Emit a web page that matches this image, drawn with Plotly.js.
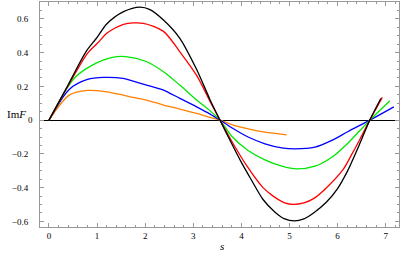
<!DOCTYPE html>
<html><head><meta charset="utf-8">
<script src="https://cdn.plot.ly/plotly-3.0.1.min.js"></script>
<style>html,body{margin:0;padding:0;background:#fff}</style>
</head><body><div id="chart" style="width:407px;height:260px"></div>
<script>
// Black series
const sBlack  = [0, 0.4, 0.78, 1.0, 1.2, 1.55, 1.89, 2.1, 2.38, 2.72, 3.07, 3.35, 3.555, 3.8, 4.0, 4.2, 4.45, 4.7, 4.9, 5.1, 5.3, 5.5, 5.77, 6.0, 6.2, 6.4, 6.67, 6.9];
const imBlack = [0, 0.21, 0.41, 0.49, 0.57, 0.643, 0.67, 0.655, 0.593, 0.485, 0.30, 0.12, 0, -0.14, -0.25, -0.35, -0.47, -0.545, -0.585, -0.597, -0.585, -0.55, -0.485, -0.405, -0.305, -0.18, 0, 0.128];
// Red series
const sRed  = [0, 0.4, 0.8, 1.04, 1.2, 1.55, 1.96, 2.38, 2.72, 3.07, 3.35, 3.555, 3.8, 4.11, 4.45, 4.66, 4.9, 5.08, 5.3, 5.5, 5.77, 6.12, 6.3, 6.47, 6.67, 6.93];
const imRed = [0, 0.205, 0.396, 0.465, 0.515, 0.568, 0.574, 0.526, 0.405, 0.265, 0.11, 0, -0.125, -0.27, -0.4, -0.45, -0.49, -0.499, -0.49, -0.465, -0.40, -0.29, -0.2, -0.11, 0, 0.135];
// Green series
const sGreen  = [0, 0.52, 0.9, 1.32, 1.6, 2.03, 2.38, 2.72, 3.07, 3.35, 3.555, 3.8, 4.14, 4.49, 4.84, 5.15, 5.53, 5.88, 6.22, 6.47, 6.67, 7.09];
const imGreen = [0, 0.247, 0.326, 0.372, 0.376, 0.346, 0.287, 0.208, 0.119, 0.055, 0, -0.095, -0.18, -0.235, -0.273, -0.289, -0.273, -0.22, -0.135, -0.06, 0, 0.115];
// Blue series
const sBlue  = [0, 0.42, 0.8, 1.14, 1.545, 1.68, 2.03, 2.38, 2.72, 3.07, 3.35, 3.555, 3.8, 4.14, 4.49, 4.84, 5.11, 5.53, 5.88, 6.22, 6.67, 7.17];
const imBlue = [0, 0.182, 0.241, 0.253, 0.247, 0.237, 0.208, 0.178, 0.129, 0.079, 0.036, 0, -0.045, -0.10, -0.14, -0.164, -0.17, -0.16, -0.12, -0.067, 0, 0.079];
// Orange series
const sOrange  = [0, 0.42, 0.8, 1.2, 1.545, 1.75, 2.03, 2.38, 2.72, 3.07, 3.35, 3.555, 3.8, 4.14, 4.49, 4.94];
const imOrange = [0, 0.148, 0.176, 0.168, 0.148, 0.135, 0.119, 0.089, 0.066, 0.04, 0.016, 0, -0.026, -0.051, -0.071, -0.087];

const yTickVals = [-0.6, -0.4, -0.2, 0, 0.2, 0.4, 0.6];
const yTickText = ['\u22120.6', '\u22120.4', '\u22120.2', '', '0.2', '0.4', '0.6'];
const xTickVals = [0, 1, 2, 3, 4, 5, 6, 7];
const xTickText = ['0', '1', '2', '3', '4', '5', '6', '7'];

const FONT = '"Liberation Serif", "Times New Roman", "DejaVu Serif", serif';

const series = [
  {x: sOrange, y: imOrange, c: 'rgb(255,128,0)'},
  {x: sBlue, y: imBlue, c: 'rgb(0,0,255)'},
  {x: sGreen, y: imGreen, c: 'rgb(0,230,0)'},
  {x: sRed, y: imRed, c: 'rgb(255,0,0)'},
  {x: sBlack, y: imBlack, c: 'rgb(0,0,0)'}
];
const traces = series.map(s => ({x: s.x, y: s.y, type: 'scatter', mode: 'lines',
  line: {color: s.c, width: 1.3, shape: 'spline', smoothing: 0.8}, hoverinfo: 'skip'}));

const axBase = {
  showline: true, linecolor: '#999', linewidth: 1, mirror: 'allticks',
  ticks: 'inside', ticklen: 4, tickcolor: '#999', tickwidth: 1,
  showgrid: false, zeroline: false, fixedrange: true,
  tickfont: {family: FONT, size: 9, color: '#000'}
};
const layout = {
  width: 407, height: 260,
  margin: {l: 40, r: 8, t: 2, b: 33},
  paper_bgcolor: '#fff', plot_bgcolor: '#fff', showlegend: false,
  font: {family: FONT},
  xaxis: Object.assign({}, axBase, {range: [-0.187, 7.277], tickmode: 'array', tickvals: xTickVals, ticktext: xTickText,
    minor: {dtick: 0.2, ticks: 'inside', ticklen: 2, tickcolor: '#999', showgrid: false}}),
  yaxis: Object.assign({}, axBase, {range: [-0.633, 0.700], tickmode: 'array', tickvals: yTickVals, ticktext: yTickText,
    zeroline: true, zerolinecolor: '#000', zerolinewidth: 1, ticklabelstandoff: 9,
    minor: {dtick: 0.05, ticks: 'inside', ticklen: 2, tickcolor: '#999', showgrid: false}}),
  annotations: [
    {text: '0', xref: 'paper', yref: 'y', x: -0.014, y: 0, xanchor: 'right', yanchor: 'middle', showarrow: false,
      font: {family: FONT, size: 9, color: '#000'}},
    {text: 'Im<i>F</i>', xref: 'paper', yref: 'y', x: -0.033, y: 0.036, xanchor: 'right', yanchor: 'middle', showarrow: false,
      font: {family: FONT, size: 11, color: '#000'}},
    {text: '<i>s</i>', xref: 'paper', yref: 'paper', x: 0.506, y: -0.085, xanchor: 'center', yanchor: 'middle', showarrow: false,
      font: {family: FONT, size: 11, color: '#000'}}
  ]
};
Plotly.newPlot('chart', traces, layout, {displayModeBar: false, staticPlot: true});
</script></body></html>
